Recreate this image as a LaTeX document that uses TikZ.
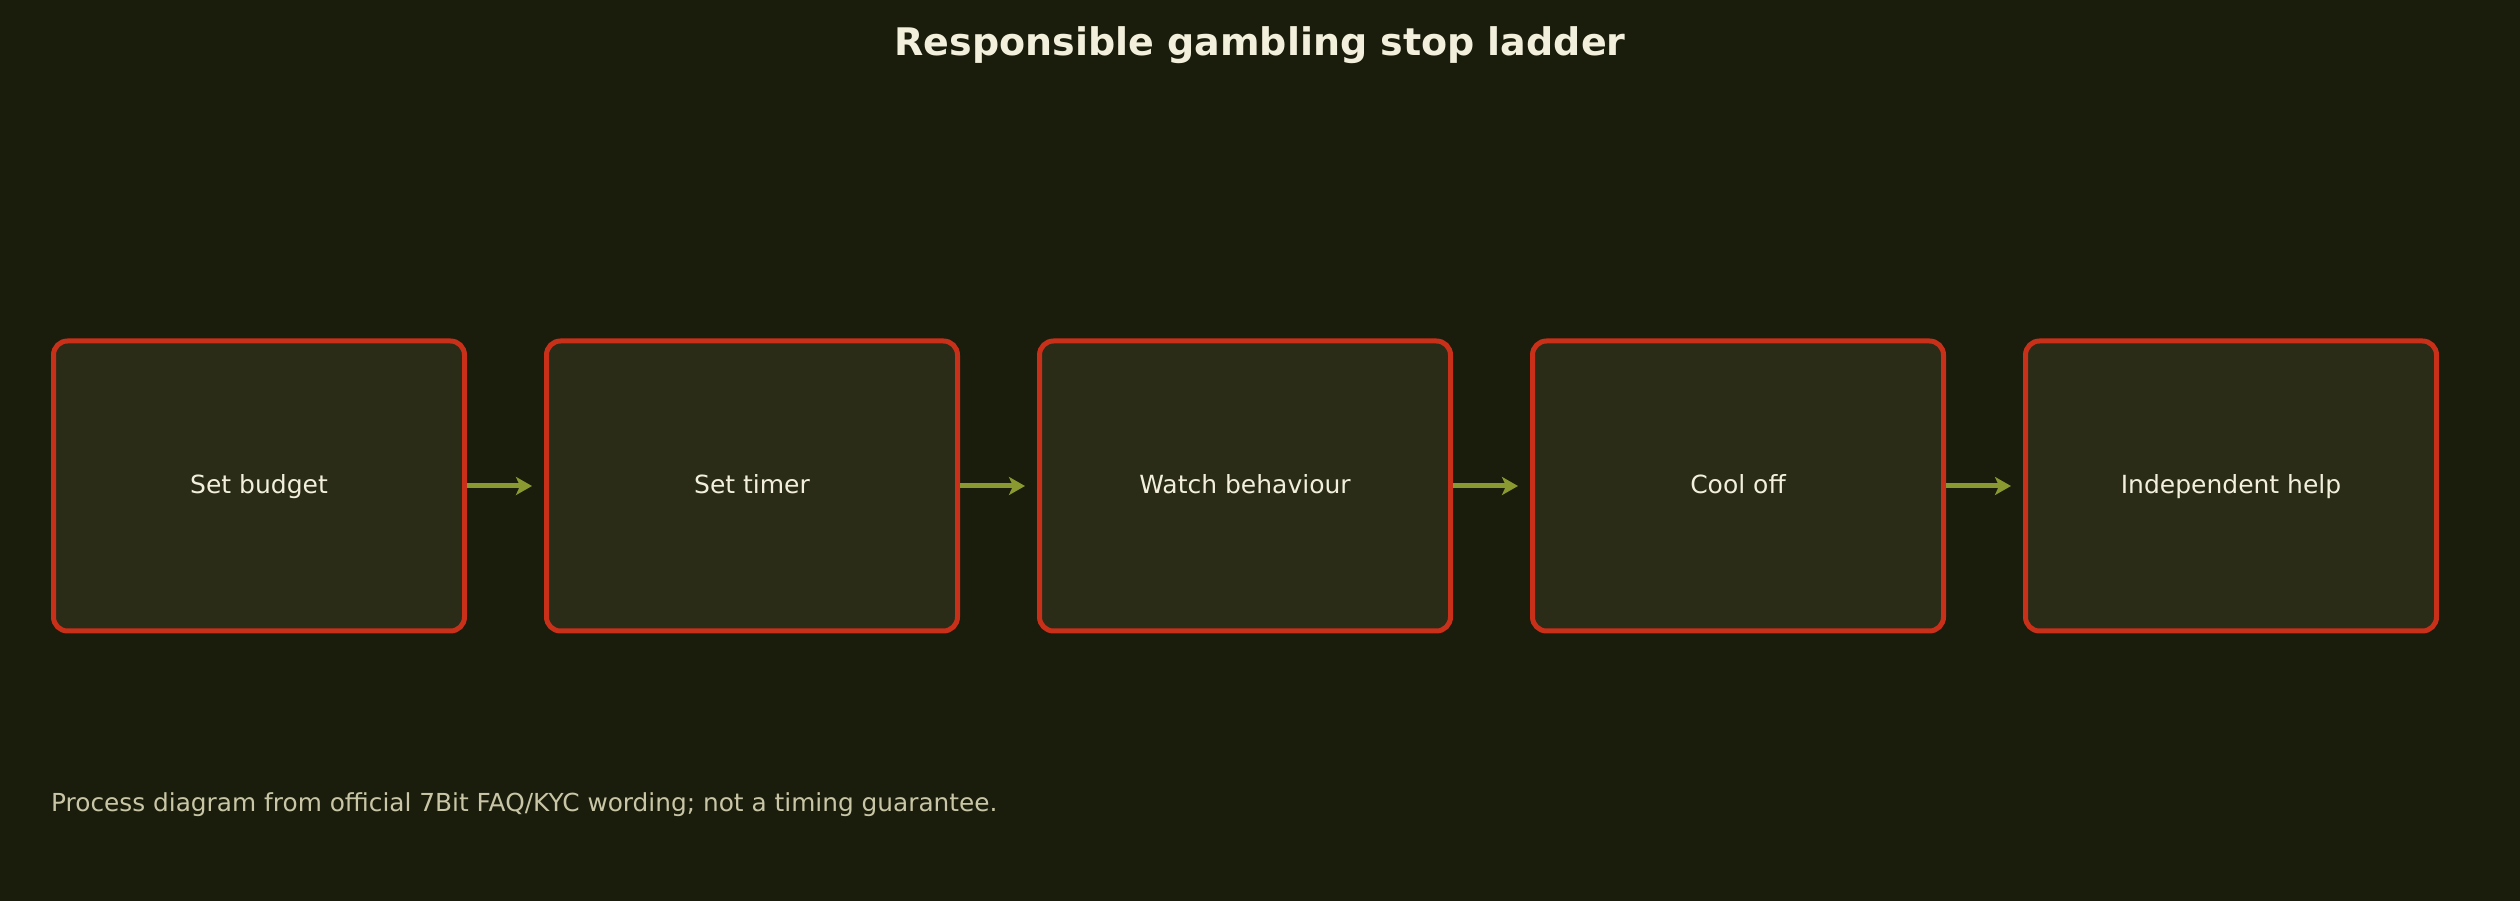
\documentclass[tikz,border=0pt]{standalone}
\usepackage{fontspec}
\setmainfont{DejaVu Sans}
\usetikzlibrary{arrows.meta}
\definecolor{bgc}{HTML}{1A1C0C}
\definecolor{boxfill}{HTML}{2A2C18}
\definecolor{boxline}{HTML}{C8301A}
\definecolor{arrowc}{HTML}{8A9A30}
\definecolor{txt}{HTML}{F2F0DC}
\definecolor{foot}{HTML}{C8C6A6}
\tikzset{
  x=1pt, y=1pt,
  stepbox/.style={draw=boxline, line width=5pt, fill=boxfill, rounded corners=14pt,
    minimum width=411pt, minimum height=290pt, inner sep=0pt,
    text height=21pt, text depth=5pt,
    text=txt, font=\fontsize{25}{30}\selectfont},
  flow/.style={draw=arrowc, line width=5pt, -{Stealth[length=16pt,width=18pt,inset=4pt]}, shorten >=12pt},
}
\begin{document}
\begin{tikzpicture}
\useasboundingbox (0,0) rectangle (2520,900);
\fill[bgc] (-5,-5) rectangle (2525,905);
\node[font=\fontsize{38}{46}\bfseries\selectfont, text=txt] (title) at (1260,855) {Responsible gambling stop ladder};
\node[stepbox] (b1) at (259,414) {Set budget};
\node[stepbox] (b2) at (752,414) {Set timer};
\node[stepbox] (b3) at (1245,414) {Watch behaviour};
\node[stepbox] (b4) at (1738,414) {Cool off};
\node[stepbox] (b5) at (2231,414) {Independent help};
\draw[flow] (b1.east) -- (b2.west);
\draw[flow] (b2.east) -- (b3.west);
\draw[flow] (b3.east) -- (b4.west);
\draw[flow] (b4.east) -- (b5.west);
\node[anchor=west, text=foot, font=\fontsize{24.8}{30}\selectfont, inner sep=0pt] (note) at (51,95.5) {Process diagram from official 7Bit FAQ/KYC wording; not a timing guarantee.};
\end{tikzpicture}
\end{document}
